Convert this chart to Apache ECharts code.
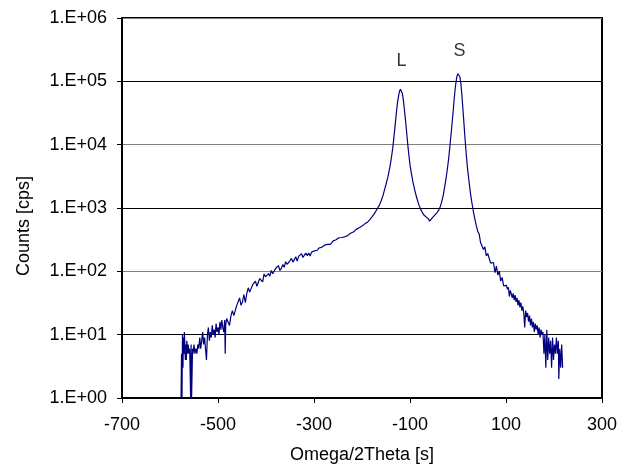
<!DOCTYPE html>
<html>
<head>
<meta charset="utf-8">
<script src="https://cdn.jsdelivr.net/npm/echarts@6/dist/echarts.min.js"></script>
<style>
html,body{margin:0;padding:0;background:#fff;}
#chart{width:631px;height:469px;}
</style>
</head>
<body>
<div id="chart"></div>
<script>
// Omega/2Theta positions [s]
var omega = [
-577,-576,-575,-574,-573,-572,-571,-570,-568,-567,-566,-565,-563,-562,-560,-559,-557,-556,-555,-553,-552,-550,-548,-546,-544,-542,-540,-538,-536,-534,-532,-530,-528,-526,-524,-522,-520,-518,-516,-514,-512,-510,-508,-506,-504,-502,-500,-498,-496,-494,-492,-490,-488,-486,-485,-484,-482,
-479,-476,-473,-470,-467,-464,-461,-458,-455,-452,-449,-446,-443,-440,-437,-434,-431,-428,-425,-422,-419,-416,-413,-410,-407,-404,-401,-398,
-395,-392,-389,-386,-383,-380,-377,-374,-371,-368,-365,-362,-359,-356,-353,-350,-347,-344,-341,-338,-335,-332,-329,-326,-323,-320,-317,-314,-311,-308,-305,-302,
-299,-296,-293,-290,-287,-284,-281,-278,-275,-272,-269,-266,-263,-260,-257,-254,-251,-248,-245,-242,-239,-236,-233,-230,-227,-224,-221,-218,-215,-212,-209,-206,-203,-200,-197,-194,-191,-188,
-184,-180,-176,-172,-168,-164,-160,-156,-153,-150,-148,-146,-144,-142,-140,-138,-136,-134,-132,-130,-128,-126,-124,-122,-120,-118,-116,-114,-112,-110,-108,-106,-104,-102,-100,
-97,-94,-90,-86,-82,-78,-74,-70,-66,-62,-60,-59,-58,-55,-52,-48,-44,-40,-37,-34,-31,-28,-25,-22,-19,-16,-13,-10,-8,-6,-4,-2,0,2,4,6,8,10,12,14,16,18,20,
23,26,29,32,35,38,41,44,47,50,53,56,59,62,65,68,71,74,77,80,83,86,89,92,95,98,
101,103,105,107,109,111,113,115,117,119,121,123,125,127,129,131,133,135,137,139,141,143,145,147,149,151,153,155,157,159,
161,163,165,167,169,171,173,175,177,179,181,183,185,187,189,191,193,195,197,199,201,203,205,207,209,210,212,214,216,218
];
// Counts [cps]
var counts = [
1,5,1,10,3,9,5,11,4,7,4,8,5,7,5,6,1,7,1,6,5,7,5,6,5,7,6,9,6,8,11,7,9,6,4,10,13,8,11,9,14,10,12,9,15,11,13,10,16,12,17,13,11,17,5,14,18,
18,14,20,24,20,19,29,28,38,29,33,43,32,45,55,47,44,61,58,70,58,57,77,77,68,91,82,77,
92,84,103,92,90,111,107,123,103,111,128,116,142,129,121,148,160,140,153,170,145,172,162,190,165,180,194,177,194,175,201,189,
211,204,215,233,219,240,237,259,248,266,284,267,286,303,293,316,312,339,324,342,361,351,374,366,392,400,420,417,440,460,465,488,510,518,542,562,582,602,
650,710,780,870,980,1100,1300,1600,1950,2350,2700,3100,3700,4400,5400,6800,8800,12000,17000,24000,34000,46000,58000,69000,75000,73000,65000,52000,38000,27000,19000,13000,9000,6500,4800,
3500,2600,1900,1450,1150,960,840,760,710,680,660,620,650,680,720,780,840,930,1050,1250,1550,2100,2900,4200,6500,11000,19000,34000,52000,75000,100000,122000,132000,131000,118000,92000,62000,39000,24000,14500,9200,6000,4100,
2600,1700,1200,880,680,530,430,389,285,297,221,244,175,191,179,135,132,138,95,121,87,101,70,80,59,62,
60,52,56,40,50,44,38,45,35,42,33,38,29,35,27,32,24,28,22,13,24,19,22,16,20,14,18,13,16,11,
15,12,14,10,13,9,12,10,11,5,10,3,12,4,9,5,8,3,9,4,7,5,9,5,8,2,6,3,7,3
];
var yTickExponents = [0,1,2,3,4,5,6];
var peakNames = ['L', 'S'];
var peakLabelX = [-117.5, 3];
var peakLabelY = [211000, 296000];

var font = "'Liberation Sans', Arial, sans-serif";
var chart = echarts.init(document.getElementById('chart'), null, {renderer: 'canvas'});
var lineData = omega.map(function (x, i) { return [x, counts[i]]; });
var labelData = peakNames.map(function (n, i) { return {value: [peakLabelX[i], peakLabelY[i]], name: n}; });

chart.setOption({
  animation: false,
  backgroundColor: '#fff',
  grid: {left: 122, right: 29, top: 18, bottom: 65, show: true, borderColor: '#000', borderWidth: 2, backgroundColor: 'transparent'},
  xAxis: {
    type: 'value', min: -700, max: 300, interval: 200,
    name: 'Omega/2Theta [s]', nameLocation: 'middle', nameGap: 48,
    nameTextStyle: {fontFamily: font, fontSize: 18, color: '#000'},
    axisLine: {show: true, onZero: false, lineStyle: {color: '#000', width: 2}},
    axisTick: {show: true, inside: false, length: 5, lineStyle: {color: '#000', width: 1}},
    axisLabel: {fontFamily: font, fontSize: 18, color: '#000', margin: 18},
    splitLine: {show: false}
  },
  yAxis: {
    type: 'log', logBase: 10, min: 1, max: 1000000,
    name: 'Counts [cps]', nameLocation: 'middle', nameGap: 89,
    nameTextStyle: {fontFamily: font, fontSize: 18, color: '#000', padding: [0, 36, 0, 0]},
    axisLine: {show: true, onZero: false, lineStyle: {color: '#000', width: 2}},
    axisTick: {show: true, inside: false, length: 5, lineStyle: {color: '#000', width: 1}},
    axisLabel: {fontFamily: font, fontSize: 18, color: '#000', margin: 15,
      formatter: function (v) {
        var e = Math.round(Math.log10(v));
        if (yTickExponents.indexOf(e) < 0) return '';
        return '1.E+' + (e < 10 ? '0' : '') + e;
      }},
    splitLine: {show: true, lineStyle: {color: ['#808080', '#000000'], width: 1}}
  },
  series: [
    {
      type: 'line', data: lineData, showSymbol: false, symbol: 'none',
      lineStyle: {color: '#000080', width: 1.2}, clip: true
    },
    {
      type: 'scatter', data: labelData, symbolSize: 0,
      label: {show: true, position: 'inside', formatter: '{b}', fontFamily: font, fontSize: 18, color: '#000'}
    }
  ]
});
</script>
</body>
</html>
